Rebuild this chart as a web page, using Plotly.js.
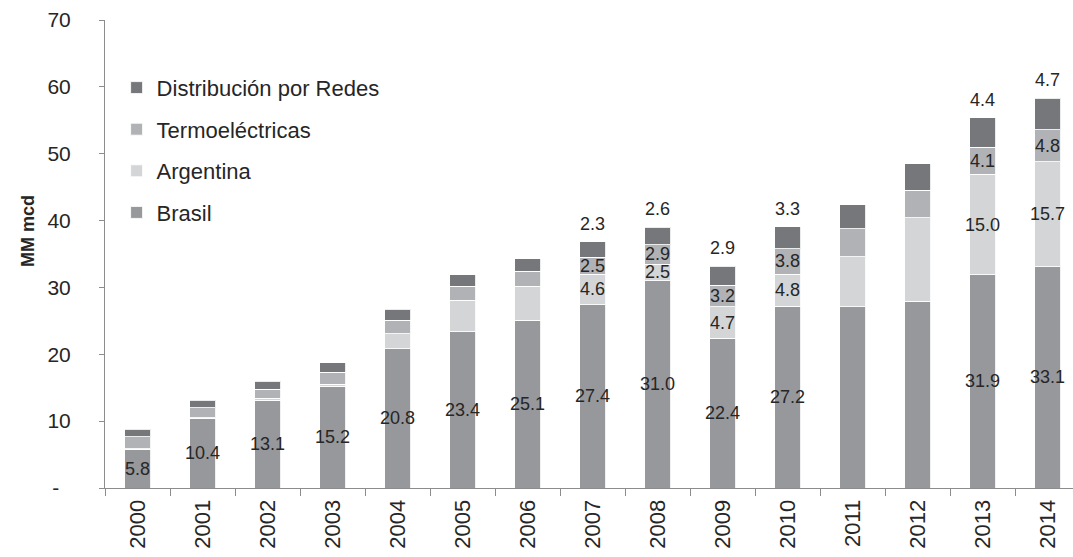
<!DOCTYPE html>
<html>
<head>
<meta charset="utf-8">
<script src="https://cdn.plot.ly/plotly-3.0.1.min.js"></script>
<style>html,body{margin:0;padding:0;background:#fff;}#chart{width:1073px;height:557px;}</style>
</head>
<body>
<div id="chart"></div>
<script>
const years = ['2000','2001','2002','2003','2004','2005','2006','2007','2008','2009','2010','2011','2012','2013','2014'];
const brasil      = [5.8, 10.4, 13.1, 15.2, 20.8, 23.4, 25.1, 27.4, 31.0, 22.4, 27.2, 27.1, 27.9, 31.9, 33.1];
const argentina   = [0.1, 0.1, 0.3, 0.3, 2.3, 4.7, 5.1, 4.6, 2.5, 4.7, 4.8, 7.5, 12.5, 15.0, 15.7];
const termo       = [1.8, 1.5, 1.4, 1.8, 2.0, 2.1, 2.2, 2.5, 2.9, 3.2, 3.8, 4.2, 4.1, 4.1, 4.8];
const distribucion= [1.1, 1.1, 1.2, 1.4, 1.6, 1.7, 1.9, 2.3, 2.6, 2.9, 3.3, 3.6, 4.0, 4.4, 4.7];
const brasilLabelYears = ['2000','2001','2002','2003','2004','2005','2006','2007','2008','2009','2010','2013','2014'];
const detailLabelYears = ['2007','2008','2009','2010','2013','2014'];
const yTickVals = [0,10,20,30,40,50,60,70];
const yTickText = ['-\u00a0\u00a0','10','20','30','40','50','60','70'];
const yTitle = 'MM mcd';

const txtColor = '#262626';
const font = 'Liberation Sans, Arial, sans-serif';

function labels(vals, keep){
  return vals.map((v,i)=> keep.includes(years[i]) ? v.toFixed(1) : '');
}
function barTrace(name, vals, color, textArr, rank){
  return {
    type:'bar', name:name, x:years, y:vals, legendgroup:name, legendrank:rank,
    marker:{color:color, line:{color:'rgba(255,255,255,0.85)', width:1}},
    text:textArr, textposition:'inside', insidetextanchor:'middle', textangle:0,
    textfont:{family:font, size:18, color:txtColor},
    hoverinfo:'skip', cliponaxis:false
  };
}
const traces = [
  barTrace('Brasil', brasil, '#97989c', labels(brasil, brasilLabelYears), 4),
  barTrace('Argentina', argentina, '#d4d5d7', labels(argentina, detailLabelYears), 3),
  barTrace('Termoeléctricas', termo, '#b1b2b5', labels(termo, detailLabelYears), 2),
  barTrace('Distribución por Redes', distribucion, '#76777b', years.map(()=>''), 1)
];

const annotations = [];
years.forEach((yr,i)=>{
  if(detailLabelYears.includes(yr)){
    const total = brasil[i]+argentina[i]+termo[i]+distribucion[i];
    annotations.push({x:i, y:total, xref:'x', yref:'y', text:distribucion[i].toFixed(1),
      showarrow:false, yanchor:'bottom', yshift:6,
      font:{family:font, size:18, color:txtColor}});
  }
});
annotations.push({xref:'paper', yref:'paper', x:-0.0795, y:0.549, text:'<b>'+yTitle+'</b>',
  textangle:-90, showarrow:false, xanchor:'center', yanchor:'middle',
  font:{family:font, size:18, color:txtColor}});

const layout = {
  width:1073, height:557,
  margin:{l:105, r:0, t:20, b:69},
  paper_bgcolor:'#fff', plot_bgcolor:'#fff',
  barmode:'stack', bargap:0.6,
  font:{family:font, color:txtColor},
  uniformtext:{mode:'show', minsize:18},
  showlegend:true,
  legend:{x:0.012, y:0.9, xanchor:'left', yanchor:'top', traceorder:'grouped',
    tracegroupgap:10, bgcolor:'rgba(0,0,0,0)', font:{family:font, size:22, color:txtColor}},
  xaxis:{type:'category', range:[-0.5, 14.392], showline:true, linecolor:'#8c8c8c', linewidth:1,
    ticks:'outside', ticklen:7, tickcolor:'#8c8c8c', tickson:'boundaries', tickangle:-90,
    tickfont:{family:font, size:22, color:txtColor}, ticklabelstandoff:2,
    showgrid:false, zeroline:false, fixedrange:true},
  yaxis:{range:[0,70], tickvals:yTickVals, ticktext:yTickText, showline:true, linecolor:'#8c8c8c',
    linewidth:1, ticks:'outside', ticklen:5, tickcolor:'#8c8c8c', showgrid:false, zeroline:false,
    tickfont:{family:font, size:21, color:txtColor}, ticklabelstandoff:24,
    fixedrange:true},
  annotations:annotations
};
Plotly.newPlot('chart', traces, layout, {displayModeBar:false, staticPlot:true});
</script>
</body>
</html>
